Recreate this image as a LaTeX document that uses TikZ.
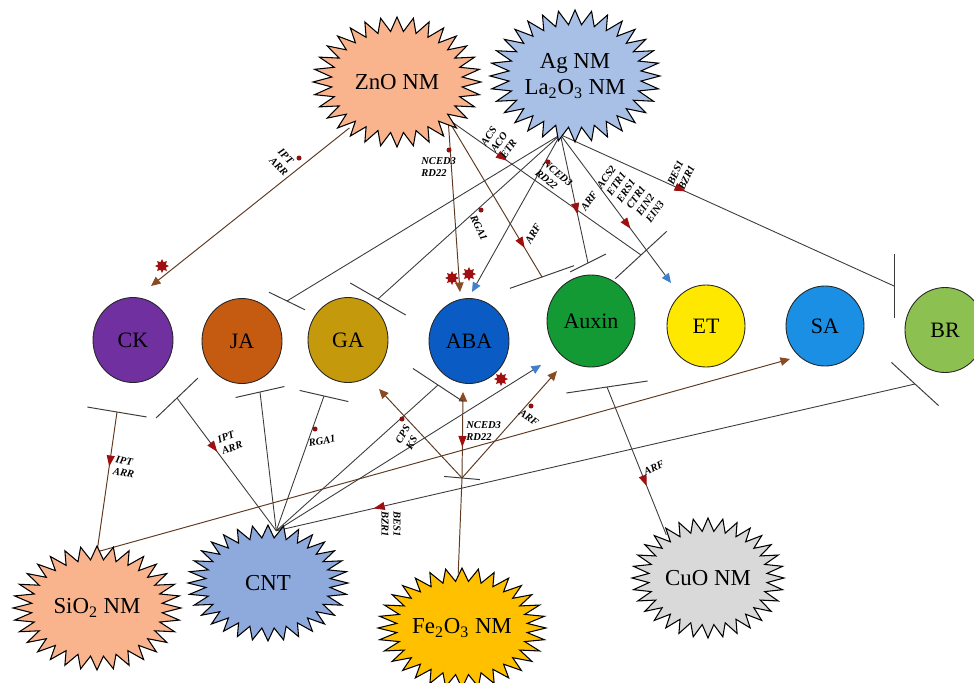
\documentclass[tikz,border=0pt]{standalone}
\usepackage{fontspec}
\setmainfont{Liberation Serif}
\usepackage{tikz}
\usetikzlibrary{calc,arrows.meta,shapes.geometric,decorations.markings,backgrounds}
\definecolor{ckpurple}{HTML}{7030A0}
\definecolor{jaorange}{HTML}{C55A11}
\definecolor{gagold}{HTML}{C49A0C}
\definecolor{abablue}{HTML}{0A5BC4}
\definecolor{auxgreen}{HTML}{139A35}
\definecolor{etyellow}{HTML}{FFE800}
\definecolor{sablue}{HTML}{1A8FE3}
\definecolor{brgreen}{HTML}{8CC152}
\definecolor{znopeach}{HTML}{F9B48E}
\definecolor{agblue}{HTML}{A9C0E6}
\definecolor{cntblue}{HTML}{8EA9DB}
\definecolor{feamber}{HTML}{FFC000}
\definecolor{cuogray}{HTML}{D9D9D9}
\definecolor{lnkgray}{HTML}{3A3A3A}
\definecolor{lnkbrown}{HTML}{5E3A22}
\definecolor{tipbrown}{HTML}{8A4B24}
\definecolor{tipblue}{HTML}{3F7FCC}
\definecolor{tipred}{HTML}{A00F0F}
\definecolor{dotred}{HTML}{8E1010}
\tikzset{
  hormone/.style={ellipse, draw=black!85, line width=0.5pt, inner sep=0,
    minimum width=16mm, minimum height=17mm, font=\fontsize{12.5}{14}\selectfont},
  nmtext/.style={ellipse, inner sep=0, align=center, font=\fontsize{13}{15}\selectfont},
  burst/.style={draw=black, line width=0.6pt, line join=miter},
  gene/.style={inner sep=0, align=left, font=\fontsize{6}{6.8}\selectfont\bfseries\itshape},
  link/.style={draw=lnkgray, line width=0.5pt},
  blink/.style={draw=lnkbrown, line width=0.55pt},
  barline/.style={draw=lnkgray, line width=0.55pt},
  tobrown/.style={-{Triangle[width=1.7mm,length=1.9mm,color=tipbrown]}},
  toblue/.style={-{Triangle[width=1.7mm,length=1.9mm,color=tipblue]}},
  midfwd/.style={postaction={decorate}, decoration={markings,
    mark=at position #1 with {\arrow{Triangle[width=1.6mm,length=2.2mm,color=tipred]}}}},
  midrev/.style={postaction={decorate}, decoration={markings,
    mark=at position #1 with {\arrowreversed{Triangle[width=1.6mm,length=2.2mm,color=tipred]}}}},
  gdot/.style={circle, fill=dotred, inner sep=0, minimum size=1mm},
  rstar/.style={star, star points=8, star point ratio=1.7, fill=tipred, inner sep=0, minimum size=2.8mm}
}
% spiky nanomaterial: name, cx, cy, rx, ry, fill, text
\newcommand{\nmburst}[7]{%
  \filldraw[burst, fill=#6] plot[samples=65, domain=0:64, variable=\t]
    ({#2+#4*(0.89+0.11*cos(180*\t))*cos(5.625*\t)}, {#3+#5*(0.89+0.11*cos(180*\t))*sin(5.625*\t)}) -- cycle;
  \node[nmtext, minimum width=#4*0.36mm, minimum height=#5*0.36mm] (#1) at (#2,#3) {#7};
}
% inhibition bar: point, angle, half length
\newcommand{\inhbar}[3]{\draw[barline] ($(#1)+(#2:#3)$) -- ($(#1)-(#2:#3)$);}

\begin{document}
\begin{tikzpicture}[x=0.2mm, y=-0.2mm]
  \useasboundingbox (0,0) rectangle (974,682);

  % Nanomaterials
  \nmburst{zno}{397}{82}{84}{65}{znopeach}{ZnO NM}
  \nmburst{ag}{575}{76}{85}{66}{agblue}{Ag NM\\La\textsubscript{2}O\textsubscript{3} NM}
  \nmburst{sio}{97}{608}{84}{62}{znopeach}{SiO\textsubscript{2} NM}
  \nmburst{cnt}{268}{583}{80}{58}{cntblue}{CNT}
  \nmburst{fe}{462}{628}{84}{60}{feamber}{Fe\textsubscript{2}O\textsubscript{3} NM}
  \nmburst{cuo}{708}{578}{76}{60}{cuogray}{CuO NM}

  % Hormones
  \node[hormone, fill=ckpurple] (ck) at (133,340) {CK};
  \node[hormone, fill=jaorange] (ja) at (242,341) {JA};
  \node[hormone, fill=gagold] (ga) at (348,340) {GA};
  \node[hormone, fill=abablue] (aba) at (469,341) {ABA};
  \node[hormone, fill=auxgreen, minimum width=17.6mm, minimum height=18.4mm] (aux) at (591,321) {Auxin};
  \node[hormone, fill=etyellow, minimum width=15.6mm, minimum height=16.4mm] (et) at (706,326) {ET};
  \node[hormone, fill=sablue, minimum width=15.6mm, minimum height=16mm] (sa) at (825,326) {SA};
  \node[hormone, fill=brgreen] (br) at (945,330) {BR};

  % Free ends
  \coordinate (zck) at (151,286);
  \coordinate (zaba) at (460,292);
  \coordinate (zarf) at (542,277);
  \coordinate (zacs) at (641,255);
  \coordinate (aja) at (287,301);
  \coordinate (aga) at (378,299);
  \coordinate (aaba) at (472,292);
  \coordinate (aarf) at (588,263);
  \coordinate (aet) at (671,283);
  \coordinate (abr) at (894,286);
  \coordinate (sck) at (117,412);
  \coordinate (ssa) at (790,359);
  \coordinate (cck) at (177,398);
  \coordinate (cja) at (260,392);
  \coordinate (cga) at (324,396);
  \coordinate (caba) at (438,385);
  \coordinate (caux) at (541,365);
  \coordinate (cbr) at (915,384);
  \coordinate (fjun) at (462,478);
  \coordinate (fga) at (379,389);
  \coordinate (faba) at (463,392);
  \coordinate (faux) at (557,371);
  \coordinate (auxbar) at (607,387);

  % Connectors
  \begin{scope}[on background layer]
    \draw[blink, tobrown] (zno.-136) -- (zck);
    \draw[blink, tobrown] (zno.-40) -- (zaba);
    \draw[blink, midfwd=-6.7mm] (zno.-38) -- (zarf);
    \draw[link, midfwd=-32.8mm] (zno.-36) -- (zacs);

    \draw[link] (ag.-104) -- (aja);
    \draw[link] (ag.-104) -- (aga);
    \draw[link, toblue] (ag.-104) -- (aaba);
    \draw[link, midfwd=-10mm] (ag.-104) -- (aarf);
    \draw[link, toblue, midfwd=-13.5mm] (ag.-104) -- (aet);
    \draw[link, midfwd=-45.8mm] (ag.-104) -- (abr);

    \draw[blink, midrev=-11mm] (sio.90) -- (sck);
    \draw[blink, tobrown] (sio.90) -- (ssa);

    \draw[link, midrev=-13.4mm] (cnt.81) -- (cck);
    \draw[link] (cnt.81) -- (cja);
    \draw[link] (cnt.81) -- (cga);
    \draw[link] (cnt.81) -- (caba);
    \draw[link, toblue] (cnt.81) -- (caux);
    \draw[link, midrev=20mm] (cnt.81) -- (cbr);

    \draw[blink] (fe.94) -- (fjun);
    \draw[blink, tobrown, midrev=-11mm] (fjun) -- (faba);
    \draw[blink, tobrown] (fjun) -- (fga);
    \draw[blink, tobrown] (fjun) -- (faux);

    \draw[link, midrev=-21.3mm] (cuo.134) -- (auxbar);

    % inhibition bars
    \inhbar{zarf}{-19.5}{34}
    \inhbar{zacs}{-42.6}{35}
    \inhbar{aja}{26}{20}
    \inhbar{aga}{30}{32}
    \inhbar{aarf}{-26.6}{20}
    \inhbar{abr}{90}{32}
    \inhbar{sck}{9.5}{30}
    \inhbar{cck}{-43.6}{29}
    \inhbar{cja}{-12.7}{25}
    \inhbar{cga}{12.9}{25}
    \inhbar{caba}{33.4}{30}
    \inhbar{cbr}{42.5}{32}
    \inhbar{fjun}{5}{18}
    \inhbar{auxbar}{-8.4}{41}
  \end{scope}

  % Gene labels
  \node[gene, rotate=-45] (gzck) at (283,162) {IPT\\ARR};
  \node[gene, anchor=west] (gzaba) at (421,167) {NCED3\\RD22};
  \node[gene, rotate=55] (gzacs) at (499,142) {ACS\\ACO\\ETR};
  \node[gene, rotate=60] (gzarf) at (533,234) {ARF};
  \node[gene, rotate=-40] (gaaba) at (554,178) {NCED3\\RD22};
  \node[gene, rotate=-65] (gaga) at (479,228) {RGA1};
  \node[gene, rotate=55] (gaarf) at (589,201) {ARF};
  \node[gene, rotate=55] (gaet) at (631,194) {ACS2\\ETR1\\ERS1\\CTR1\\EIN2\\EIN3};
  \node[gene, rotate=65] (gabr) at (681,175) {BES1\\BZR1};
  \node[gene, rotate=-12] (gsck) at (125,467) {IPT\\ARR};
  \node[gene, rotate=20] (gcck) at (230,442) {IPT\\ARR};
  \node[gene, rotate=10] (gcga) at (322,441) {RGA1};
  \node[gene, rotate=60] (gfga) at (408,437) {CPS\\KS};
  \node[gene, anchor=west] (gfaba) at (466,431) {NCED3\\RD22};
  \node[gene, rotate=-35] (gfaux) at (529,418) {ARF};
  \node[gene, rotate=25] (gcuo) at (654,468) {ARF};
  \node[gene, rotate=-90] (gcbr) at (391,524) {BES1\\BZR1};

  % Marks
  \node[gdot] (d1) at (299,158) {};
  \node[gdot] (d2) at (449,150) {};
  \node[gdot] (d3) at (548,162) {};
  \node[gdot] (d4) at (481,210) {};
  \node[gdot] (d5) at (315,429) {};
  \node[gdot] (d6) at (402,419) {};
  \node[gdot] (d7) at (531,406) {};
  \node[rstar] (s1) at (162,266) {};
  \node[rstar] (s2) at (452,278) {};
  \node[rstar] (s3) at (469,274) {};
  \node[rstar] (s4) at (501,379) {};
\end{tikzpicture}
\end{document}
